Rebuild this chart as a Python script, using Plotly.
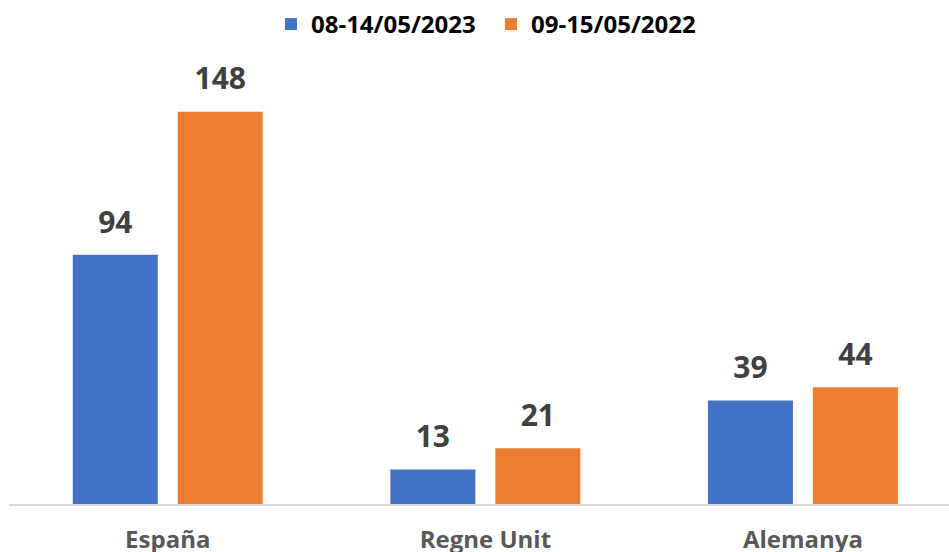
import plotly.graph_objects as go

categories = ["España", "Regne Unit", "Alemanya"]
series_2023_name = "08-14/05/2023"
series_2022_name = "09-15/05/2022"
values_2023 = [94, 13, 39]
values_2022 = [148, 21, 44]

BLUE = "#4472C4"
ORANGE = "#ED7D31"
FONT = "Open Sans"
BARGAP = 0.339

fig = go.Figure()
fig.add_trace(go.Bar(x=categories, y=values_2023, name=series_2023_name,
                     marker=dict(color=BLUE, line=dict(width=0)), hoverinfo="skip"))
fig.add_trace(go.Bar(x=categories, y=values_2022, name=series_2022_name,
                     marker=dict(color=ORANGE, line=dict(width=0)), hoverinfo="skip"))

for vals in (values_2023, values_2022):
    fig.add_trace(go.Scatter(
        x=categories, y=vals, mode="markers+text",
        text=[str(v) for v in vals], textposition="top center",
        textfont=dict(family=FONT, size=30, color="#404040", weight=700),
        marker=dict(size=22, opacity=0), showlegend=False, hoverinfo="skip",
        cliponaxis=False))

fig.update_layout(
    width=949, height=552,
    margin=dict(l=9, r=0, t=60, b=48, autoexpand=False),
    paper_bgcolor="white", plot_bgcolor="white",
    barmode="group", bargap=BARGAP, bargroupgap=0.19,
    scattermode="group", scattergap=BARGAP,
    showlegend=True,
    legend=dict(orientation="h", xref="paper", x=0.2787, xanchor="left",
                yref="container", y=0.9964, yanchor="top",
                font=dict(family=FONT, size=24, color="#000000", weight=700),
                entrywidth=175, itemclick=False, itemdoubleclick=False),
    xaxis=dict(type="category", range=[-0.5, 2.46], showline=True,
               linecolor="#D9D9D9", linewidth=2, showgrid=False, zeroline=False,
               tickfont=dict(family=FONT, size=24, color="#595959", weight=700),
               ticks="", ticklabelstandoff=13, fixedrange=True),
    yaxis=dict(range=[0, 167.5], visible=False, fixedrange=True),
)

fig.write_html("out.html",
               config={"displayModeBar": False},
               post_script="document.body.style.margin='0';document.body.style.overflow='hidden';")
